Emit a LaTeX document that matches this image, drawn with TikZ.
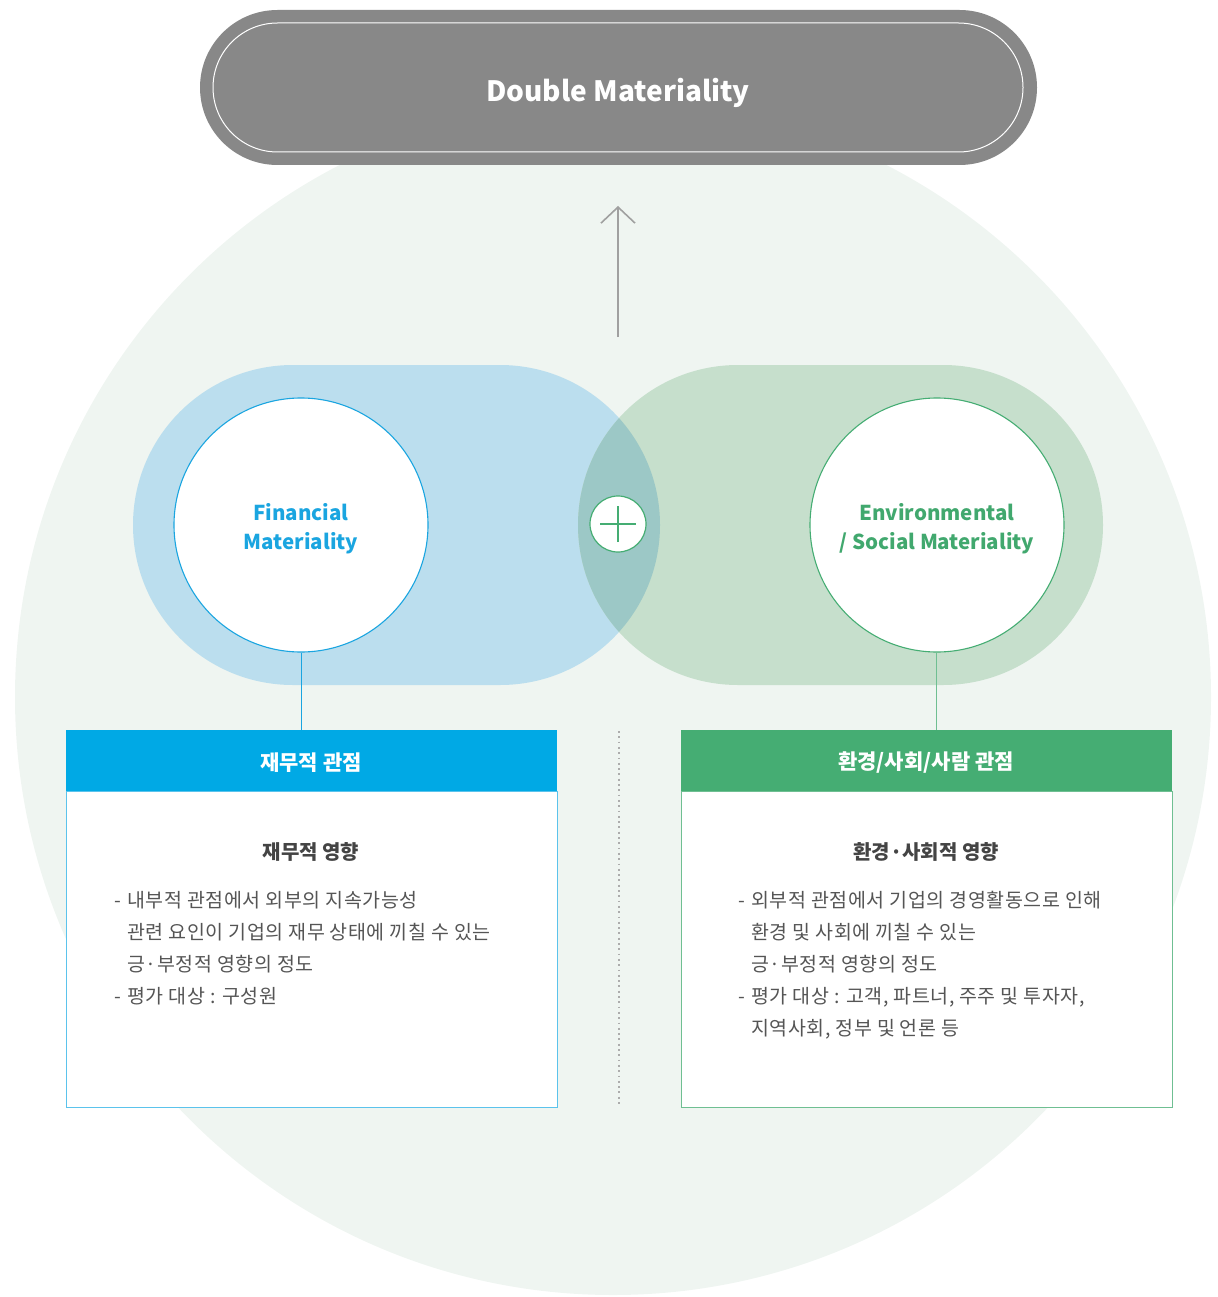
\documentclass[tikz,border=0pt]{standalone}
\usepackage{fontspec}
\setmainfont{Noto Sans CJK KR}
\newfontfamily\bodyfont{Noto Sans CJK KR}[LetterSpace=3]
\usetikzlibrary{arrows.meta}
\definecolor{bgc}{HTML}{EFF5F1}
\definecolor{pillc}{HTML}{888888}
\definecolor{bluel}{HTML}{BBDEEE}
\definecolor{greenl}{HTML}{C6DFCC}
\definecolor{overl}{HTML}{9CC8C6}
\definecolor{blued}{HTML}{00A9E5}
\definecolor{greend}{HTML}{45AD73}
\definecolor{bluetx}{HTML}{1AA5E0}
\definecolor{greentx}{HTML}{41A86E}
\definecolor{blueb}{HTML}{5BC3EC}
\definecolor{greenb}{HTML}{6FBF92}
\definecolor{txt}{HTML}{555555}
\definecolor{ttl}{HTML}{444444}
\tikzset{
  matcircle/.style={circle, fill=white, line width=1.1pt, minimum size=254pt, inner sep=0pt, align=center, font=\fontsize{20.5}{29}\selectfont\bfseries},
  headbox/.style={rectangle, minimum width=491pt, minimum height=61pt, inner sep=0pt, text=white, font=\fontsize{21}{24}\selectfont\bfseries},
  bodybox/.style={rectangle, fill=white, line width=1.2pt, minimum width=491pt, minimum height=316pt, inner sep=0pt},
  subttl/.style={text=ttl, font=\fontsize{20}{24}\selectfont\bfseries},
  bodytxt/.style={text=txt, anchor=north west, inner sep=0pt, align=left, font=\bodyfont\fontsize{19.5}{32}\selectfont},
}
\newcommand{\dashitem}{\makebox[13pt][l]{-}}
\newcommand{\contind}{\hspace*{13pt}}
\begin{document}
\begin{tikzpicture}[x=1pt,y=-1pt]
\useasboundingbox (0,0) rectangle (1217,1297);
% background circle
\begin{scope}
\clip (0,0) rectangle (1217,1297);
\fill[bgc] (613,697) circle[radius=598];
\end{scope}
% top pill
\fill[pillc, rounded corners=77.5] (200,10) rectangle (1037,165);
\draw[white, line width=1pt, rounded corners=64.5] (213,23) rectangle (1023,152);
\node[text=white, font=\fontsize{28}{34}\selectfont\bfseries] (dm) at (618,93) {Double Materiality};
% arrow
\coordinate (arS) at (618,337);
\coordinate (arE) at (618,206);
\draw[color=pillc!80, line width=1.6pt, -{Straight Barb[length=16pt,width=34pt,line width=1.6pt]}] (arS) -- (arE);
% stadiums
\fill[bluel, rounded corners=160] (133,365) rectangle (660,685);
\fill[greenl, rounded corners=160] (578,365) rectangle (1103,685);
\begin{scope}
\clip[rounded corners=160] (133,365) rectangle (660,685);
\fill[overl, rounded corners=160] (578,365) rectangle (1103,685);
\end{scope}
% circles
\node[matcircle, draw=bluetx, text=bluetx] (fc) at (301,525) {};
\node[matcircle, draw=greend, text=greentx] (ec) at (937,525) {};
\node[align=center, text=bluetx, font=\fontsize{20.5}{29}\selectfont\bfseries] (fct) at (301,529) {Financial\\Materiality};
\node[align=center, text=greentx, font=\fontsize{20.5}{29}\selectfont\bfseries] (ect) at (937,529) {Environmental\\/ Social Materiality};
% plus
\node[circle, fill=white, draw=greend, line width=1.2pt, minimum size=56pt, inner sep=0pt] (plus) at (618,524) {};
\draw[greend, line width=2.6pt] ([xshift=-18pt]plus.center) -- ([xshift=18pt]plus.center);
\draw[greend, line width=2.6pt] ([yshift=-18pt]plus.center) -- ([yshift=18pt]plus.center);
% boxes
\node[bodybox, draw=blueb, anchor=north west] (lbody) at (66,791) {};
\node[bodybox, draw=greenb, anchor=north west] (rbody) at (681,791) {};
\node[headbox, fill=blued, anchor=north west] (lhead) at (66,730) {};
\node[headbox, fill=greend, anchor=north west] (rhead) at (681,730) {};
\node[text=white, font=\fontsize{21}{24}\selectfont\bfseries] (lht) at (311,763) {재무적 관점};
\node[text=white, font=\fontsize{21}{24}\selectfont\bfseries] (rht) at (926,763) {환경/사회/사람 관점};
% connectors
\draw[bluetx, line width=1pt] (fc.south) -- (fc.south |- lhead.north);
\draw[greenb, line width=1pt] ([xshift=-1pt]ec.south) -- ([xshift=-1pt]ec.south |- rhead.north);
% dotted divider
\coordinate (dvT) at (619,731);
\coordinate (dvB) at (619,1107);
\draw[color=pillc!70, line width=1.6pt, dash pattern=on 1.8pt off 3.5pt] (dvT) -- (dvB);
% texts
\node[subttl] (lst) at (311,852) {재무적 영향};
\node[subttl] (rst) at (926,852) {환경·사회적 영향};
\node[bodytxt] (ltx) at (114,891) {\dashitem 내부적 관점에서 외부의 지속가능성\\
\contind 관련 요인이 기업의 재무 상태에 끼칠 수 있는\\
\contind 긍·부정적 영향의 정도\\
\dashitem 평가 대상 : 구성원};
\node[bodytxt] (rtx) at (738,891) {\dashitem 외부적 관점에서 기업의 경영활동으로 인해\\
\contind 환경 및 사회에 끼칠 수 있는\\
\contind 긍·부정적 영향의 정도\\
\dashitem 평가 대상 : 고객, 파트너, 주주 및 투자자,\\
\contind 지역사회, 정부 및 언론 등};
\end{tikzpicture}
\end{document}
